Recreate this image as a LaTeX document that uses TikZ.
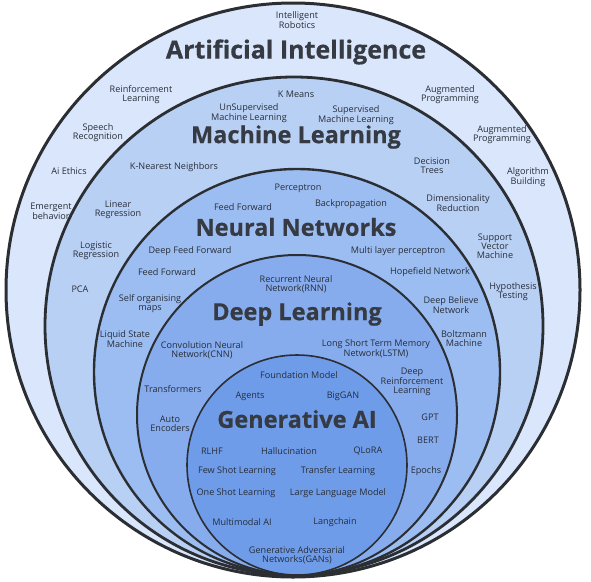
\documentclass[tikz,border=0pt]{standalone}
\usepackage{fontspec}
\setmainfont{Open Sans}
\newfontfamily\ttlfont{Open Sans}[BoldFeatures={FakeBold=0.5}]
\usepackage{xcolor}
\usepackage{tikz}
\usetikzlibrary{positioning}

\definecolor{ringai}{HTML}{D9E6FB}
\definecolor{ringml}{HTML}{B9D0F5}
\definecolor{ringnn}{HTML}{9CBDF1}
\definecolor{ringdl}{HTML}{86ACEE}
\definecolor{ringga}{HTML}{6F9CE9}
\definecolor{edgecol}{HTML}{2B2E33}
\definecolor{txtcol}{HTML}{272D38}
\definecolor{ttlcol}{HTML}{363A42}

\begin{document}
\begin{tikzpicture}[x=1pt,y=-1pt,
      lbl/.style={font=\fontsize{9.1}{9}\selectfont,text=txtcol,align=center,inner sep=0pt},
      ttl/.style={font=\ttlfont\fontsize{23.5}{26}\selectfont\bfseries,text=ttlcol,inner sep=0pt},
      ring/.style={draw=edgecol,line width=#1}]
    \useasboundingbox (0,0) rectangle (591,581);
    % nested rings
    \fill[ringai] (293,290) circle[radius=287pt];
    \draw[ring=3pt] (293,290) circle[radius=287pt];
    \fill[ringml] (294,326) circle[radius=249pt];
    \draw[ring=2.8pt] (294,326) circle[radius=249pt];
    \fill[ringnn] (297,372) circle[radius=203pt];
    \draw[ring=2.4pt] (297,372) circle[radius=203pt];
    \fill[ringdl] (297,415) circle[radius=160pt];
    \draw[ring=2pt] (297,415) circle[radius=160pt];
    \fill[ringga] (297,465) circle[radius=110pt];
    \draw[ring=1.6pt] (297,465) circle[radius=110pt];
    % Artificial Intelligence
    \node[ttl,font=\ttlfont\fontsize{25}{28}\selectfont\bfseries] (tai) at (296,52) {Artificial Intelligence};
    \node[lbl] (irob) at (297,20) {Intelligent\\Robotics};
    \node[lbl] (rlrn) at (141,95) {Reinforcement\\Learning};
    \node[lbl] (sprc) at (98,133) {Speech\\Recognition};
    \node[lbl] (ethc) at (69,171) {Ai Ethics};
    \node[lbl] (emrg) at (51,211) {Emergent\\behavior};
    \node[lbl] (augA) at (450,95) {Augmented\\Programming};
    \node[lbl] (augB) at (502,135) {Augmented\\Programming};
    \node[lbl] (algb) at (528,177) {Algorithm\\Building};
    % Machine Learning
    \node[ttl] (tml) at (296,137) {Machine Learning};
    \node[lbl] (kmns) at (296,94) {K Means};
    \node[lbl] (unsp) at (249,113) {UnSupervised\\Machine Learning};
    \node[lbl] (supv) at (356,115) {Supervised\\Machine Learning};
    \node[lbl] (knn) at (174,167) {K-Nearest Neighbors};
    \node[lbl] (dtre) at (432,166) {Decision\\Trees};
    \node[lbl] (linr) at (118,210) {Linear\\Regression};
    \node[lbl] (dimr) at (458,203) {Dimensionality\\Reduction};
    \node[lbl] (logr) at (96,251) {Logistic\\Regression};
    \node[lbl] (svm) at (495,246) {Support\\Vector\\Machine};
    \node[lbl] (pca) at (80,289) {PCA};
    \node[lbl] (hypt) at (513,292) {Hypothesis\\Testing};
    % Neural Networks
    \node[ttl] (tnn) at (296,227) {Neural Networks};
    \node[lbl] (perc) at (298,188) {Perceptron};
    \node[lbl] (ffA) at (243,207) {Feed Forward};
    \node[lbl] (bprp) at (351,204) {Backpropagation};
    \node[lbl] (dff) at (190,251) {Deep Feed Forward};
    \node[lbl] (mlp) at (398,251) {Multi layer perceptron};
    \node[lbl] (ffB) at (167,272) {Feed Forward};
    \node[lbl] (hopf) at (430,272) {Hopefield Network};
    \node[lbl] (som) at (150,304) {Self organising\\maps};
    \node[lbl] (dbn) at (451,305) {Deep Believe\\Network};
    \node[lbl] (lsm) at (125,339) {Liquid State\\Machine};
    \node[lbl] (bolt) at (464,339) {Boltzmann\\Machine};
    % Deep Learning
    \node[ttl] (tdl) at (297,314) {Deep Learning};
    \node[lbl] (rnn) at (296,284) {Recurrent Neural\\Network(RNN)};
    \node[lbl] (cnn) at (202,350) {Convolution Neural\\Network(CNN)};
    \node[lbl] (lstm) at (376,349) {Long Short Term Memory\\Network(LSTM)};
    \node[lbl] (drl) at (412,382) {Deep\\Reinforcement\\Learning};
    \node[lbl] (trf) at (173,389) {Transformers};
    \node[lbl] (aenc) at (170,424) {Auto\\Encoders};
    \node[lbl] (gpt) at (430,417) {GPT};
    \node[lbl] (bert) at (428,440) {BERT};
    \node[lbl] (epch) at (426,471) {Epochs};
    % Generative AI
    \node[ttl] (tga) at (297,419) {Generative AI};
    \node[lbl] (fndm) at (299,375) {Foundation Model};
    \node[lbl] (agnt) at (250,396) {Agents};
    \node[lbl] (bgan) at (343,396) {BigGAN};
    \node[lbl] (rlhf) at (212,451) {RLHF};
    \node[lbl] (hall) at (289,451) {Hallucination};
    \node[lbl] (qlra) at (368,451) {QLoRA};
    \node[lbl] (fsl) at (237,471) {Few Shot Learning};
    \node[lbl] (tfl) at (338,471) {Transfer Learning};
    \node[lbl] (osl) at (236,493) {One Shot Learning};
    \node[lbl] (llm) at (338,493) {Large Language Model};
    \node[lbl] (mmai) at (242,522) {Multimodal AI};
    \node[lbl] (lchn) at (335,522) {Langchain};
    \node[lbl] (gans) at (297,555) {Generative Adversarial\\Networks(GANs)};
  \end{tikzpicture}
\end{document}
